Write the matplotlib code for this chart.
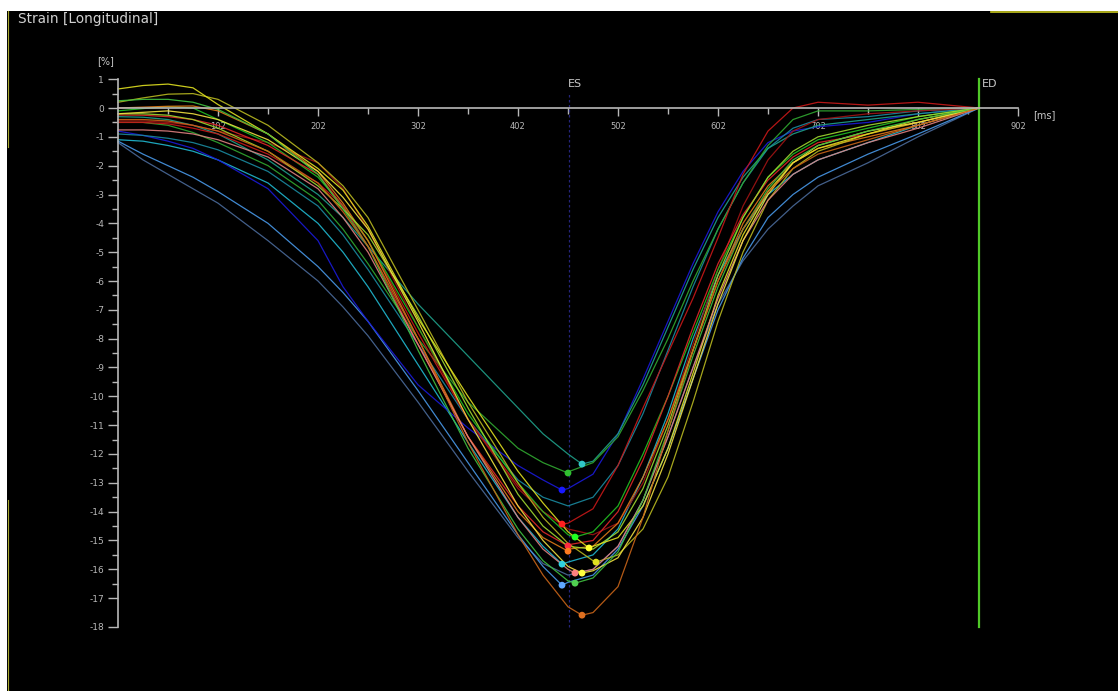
import matplotlib
matplotlib.use("Agg")
import matplotlib.pyplot as plt
from matplotlib.patches import Rectangle
from matplotlib.ticker import FixedLocator

# time grid (ms) shared by every segment curve
t = [0, 25, 50, 75, 100, 150, 200, 225, 250, 300, 350, 400, 425, 450, 475, 500,
     525, 550, 575, 600, 625, 650, 675, 700, 750, 800, 861]

# strain curves [%] per segment
slate_r  = [-1.2, -1.8, -2.3, -2.8, -3.3, -4.6, -6.0, -6.9, -7.9, -10.2, -12.6, -14.9, -15.8, -16.2, -16.0, -15.2, -13.6, -11.4, -9.0, -6.8, -5.3, -4.2, -3.4, -2.7, -1.9, -1.0, 0]
lblue_m  = [-1.15, -1.6, -2.0, -2.4, -2.9, -4.0, -5.5, -6.4, -7.4, -9.8, -12.3, -14.8, -15.9, -16.45, -16.2, -15.3, -13.8, -11.8, -9.4, -7.0, -5.2, -3.8, -3.0, -2.4, -1.6, -0.9, 0]
cyan_j   = [-1.1, -1.15, -1.3, -1.5, -1.8, -2.6, -4.0, -5.0, -6.2, -8.9, -11.6, -14.2, -15.2, -15.75, -15.5, -14.6, -12.8, -10.6, -8.0, -5.8, -4.2, -3.0, -2.3, -1.8, -1.2, -0.6, 0]
blue_c   = [-0.8, -0.95, -1.15, -1.4, -1.8, -2.8, -4.6, -6.2, -7.4, -9.6, -11.1, -12.4, -12.9, -13.2, -12.7, -11.3, -9.4, -7.4, -5.4, -3.6, -2.2, -1.2, -0.8, -0.65, -0.5, -0.2, 0]
sea_s    = [-0.9, -0.95, -1.05, -1.2, -1.45, -2.2, -3.4, -4.4, -5.6, -8.2, -10.8, -12.9, -13.5, -13.8, -13.5, -12.4, -10.6, -8.4, -6.2, -4.2, -2.6, -1.4, -0.7, -0.4, -0.3, -0.1, 0]
teal_a   = [-0.3, -0.32, -0.4, -0.6, -0.9, -1.8, -3.0, -3.8, -4.8, -6.8, -8.6, -10.4, -11.3, -12.0, -12.25, -11.3, -9.6, -7.6, -5.6, -3.8, -2.4, -1.4, -0.9, -0.6, -0.4, -0.2, 0]
green_b  = [-0.5, -0.5, -0.6, -0.85, -1.2, -2.0, -3.2, -4.2, -5.4, -8.0, -10.2, -11.8, -12.3, -12.62, -12.3, -11.4, -9.8, -8.0, -6.0, -4.2, -2.6, -1.3, -0.4, -0.1, -0.1, -0.05, 0]
red_d    = [-0.5, -0.5, -0.55, -0.7, -0.9, -1.6, -2.6, -3.4, -4.6, -7.8, -10.8, -13.1, -14.0, -14.4, -13.9, -12.4, -10.4, -8.5, -6.6, -4.5, -2.3, -0.8, 0.0, 0.2, 0.1, 0.2, 0]
dred_p   = [-0.45, -0.45, -0.5, -0.6, -0.8, -1.2, -1.9, -2.8, -4.2, -7.6, -10.8, -13.2, -14.0, -14.6, -14.8, -14.4, -13.0, -10.8, -8.2, -5.6, -3.4, -1.8, -0.8, -0.4, -0.2, -0.1, 0]
green_e  = [-0.1, -0.02, 0.05, 0.0, -0.4, -1.2, -2.4, -3.4, -4.6, -7.6, -10.6, -13.0, -14.0, -14.8, -14.7, -13.8, -12.0, -10.0, -7.8, -5.6, -3.8, -2.4, -1.6, -1.1, -0.7, -0.3, 0]
red_f    = [-0.24, -0.25, -0.3, -0.4, -0.6, -1.3, -2.3, -3.4, -4.8, -8.2, -11.4, -13.8, -14.7, -15.15, -15.0, -14.0, -12.2, -10.0, -7.6, -5.4, -3.7, -2.5, -1.7, -1.2, -0.9, -0.5, 0]
orange_g = [0.0, 0.03, 0.06, 0.07, -0.1, -0.9, -2.2, -3.3, -4.6, -8.0, -11.4, -14.0, -14.9, -15.3, -15.2, -14.4, -12.8, -10.8, -8.4, -6.0, -4.0, -2.7, -1.9, -1.4, -1.0, -0.6, 0]
lime_q   = [-0.2, -0.2, -0.25, -0.4, -0.7, -1.5, -2.7, -3.5, -4.4, -7.2, -10.4, -13.4, -14.5, -15.2, -15.3, -14.7, -13.2, -11.0, -8.4, -5.8, -3.8, -2.4, -1.5, -1.0, -0.6, -0.3, 0]
olive_i  = [0.2, 0.35, 0.48, 0.5, 0.3, -0.6, -1.9, -2.7, -3.8, -7.0, -10.2, -13.0, -14.2, -15.1, -15.7, -15.5, -14.6, -12.8, -10.2, -7.4, -5.0, -3.2, -2.1, -1.5, -0.9, -0.5, 0]
yellow_h = [0.66, 0.78, 0.83, 0.7, 0.12, -0.9, -2.1, -2.85, -4.1, -7.3, -10.0, -12.6, -13.7, -14.7, -15.2, -14.9, -13.8, -11.8, -9.2, -6.5, -4.4, -2.9, -1.9, -1.4, -0.9, -0.4, 0]
pink_k   = [-0.76, -0.76, -0.8, -0.9, -1.1, -1.7, -2.8, -3.8, -5.0, -8.2, -11.4, -14.2, -15.3, -16.0, -16.0, -15.2, -13.6, -11.4, -9.0, -6.6, -4.6, -3.2, -2.3, -1.8, -1.2, -0.7, 0]
yellow_l = [-0.2, -0.15, -0.1, -0.2, -0.4, -1.1, -2.2, -3.1, -4.2, -7.4, -10.8, -13.8, -15.0, -15.9, -16.05, -15.6, -14.2, -12.0, -9.4, -6.8, -4.6, -3.0, -1.9, -1.3, -0.8, -0.5, 0]
green_n  = [0.25, 0.3, 0.3, 0.2, -0.05, -0.9, -2.3, -3.5, -4.8, -8.4, -11.8, -14.6, -15.7, -16.4, -16.3, -15.4, -13.6, -11.2, -8.6, -6.2, -4.2, -2.8, -1.8, -1.3, -0.8, -0.4, 0]
brown_o  = [-0.4, -0.4, -0.45, -0.6, -0.8, -1.5, -2.6, -3.6, -4.8, -8.0, -11.6, -14.8, -16.2, -17.3, -17.5, -16.6, -14.2, -11.2, -8.4, -6.0, -4.2, -2.9, -2.1, -1.6, -1.1, -0.6, 0]

curves = [slate_r, lblue_m, cyan_j, blue_c, sea_s, teal_a, green_b, red_d, dred_p, green_e,
          red_f, orange_g, lime_q, olive_i, yellow_h, pink_k, yellow_l, green_n, brown_o]
colors = ['#4a6a9a', '#4898e8', '#20b8d0', '#1a1ad8', '#1a8aa0', '#1fa08a', '#30a830', '#c81818', '#a01414', '#22c022',
          '#e02828', '#e07818', '#a0d830', '#b8b820', '#e0e020', '#e08080', '#f0e040', '#40c040', '#c86418']

# peak (minimum) strain per curve: time [ms], value [%]; None = no marker
peak_t = [None, 444, 444, 444, None, 464, 450, 444, None, 457,
          450, 450, None, 478, 471, 457, 464, 457, 464]
peak_v = [None, -16.55, -15.82, -13.25, None, -12.35, -12.66, -14.43, None, -14.88,
          -15.19, -15.37, None, -15.75, -15.26, -16.13, -16.13, -16.48, -17.59]
peak_c = [None, '#60a8ff', '#30d0e0', '#1818ff', None, '#30c8c8', '#30c030', '#ff2020', None, '#20ff20',
          '#ff2a40', '#ff7a20', None, '#e0e020', '#ffff30', '#ff8080', '#ffff40', '#50d050', '#e07020']

xticks = [100, 200, 300, 400, 500, 600, 700, 800, 900]
xtick_labels = ['102', '202', '302', '402', '502', '602', '702', '802', '902']
xminor = [50, 150, 250, 350, 450, 550, 650, 750, 850]
yticks = list(range(1, -19, -1))
yminor = [v + 0.5 for v in range(0, -18, -1)]
es_t = 451
ed_t = 861

fig = plt.figure(figsize=(11.18, 6.91), dpi=100, facecolor='white')
ax = fig.add_axes([0, 0, 1, 1])
ax.set_facecolor('black')
ax.set_xlim(-118, 1000)
ax.set_ylim(-20.22, 3.746)

axis_col = '#b8b8b8'
for side in ['top', 'right']:
    ax.spines[side].set_visible(False)
ax.spines['left'].set_position(('data', 0))
ax.spines['bottom'].set_position(('data', 0))
ax.spines['left'].set_bounds(-18, 1)
ax.spines['bottom'].set_bounds(0, 900)
for side in ['left', 'bottom']:
    ax.spines[side].set_color(axis_col)
    ax.spines[side].set_linewidth(1.2)

ax.set_xticks(xticks)
ax.set_xticklabels(xtick_labels)
ax.set_yticks(yticks)
ax.set_yticklabels([str(v) for v in yticks])
ax.xaxis.set_minor_locator(FixedLocator(xminor))
ax.yaxis.set_minor_locator(FixedLocator(yminor))
ax.tick_params(axis='x', which='major', direction='out', length=6, width=1, colors=axis_col,
               labelsize=6, pad=4)
ax.tick_params(axis='x', which='minor', direction='out', length=4, width=1, color=axis_col)
ax.tick_params(axis='y', which='major', direction='out', length=7, width=1, colors=axis_col,
               labelsize=6.5, pad=3)
ax.tick_params(axis='y', which='minor', direction='out', length=4, width=1, color=axis_col)

# ES / ED markers
ylo, yhi = ax.get_ylim()
ax.axvline(es_t, ymin=(-18 - ylo) / (yhi - ylo), ymax=(0.5 - ylo) / (yhi - ylo),
           color='#24247a', lw=0.9, ls=(0, (2, 2)))
ax.axvline(ed_t, ymin=(-18 - ylo) / (yhi - ylo), ymax=(1 - ylo) / (yhi - ylo),
           color='#50c828', lw=1.6)
ax.text(es_t + 6, 0.65, 'ES', color='#c8c8c8', fontsize=8, ha='center', va='bottom')
ax.text(ed_t + 3, 0.65, 'ED', color='#c8c8c8', fontsize=8, ha='left', va='bottom')

for vals, c, pt, pv in zip(curves, colors, peak_t, peak_v):
    pts = list(zip(t, vals))
    if pt is not None:
        pts = sorted(pts + [(pt, pv)])
    ax.plot([p[0] for p in pts], [p[1] for p in pts], color=c, lw=0.9, alpha=0.9,
            solid_joinstyle='round')

marks = [(pt, pv, pc) for pt, pv, pc in zip(peak_t, peak_v, peak_c) if pt is not None]
ax.scatter([m[0] for m in marks], [m[1] for m in marks], s=24, c=[m[2] for m in marks],
           zorder=5, edgecolors='none')

ax.text(-12, 1.45, '[%]', color='#c8c8c8', fontsize=7, ha='center', va='bottom')
ax.text(915, -0.25, '[ms]', color='#c8c8c8', fontsize=7, ha='left', va='center')

fig.text(18 / 1118, 1 - 19 / 691, 'Strain [Longitudinal]', color='#d0d0d0', fontsize=9.8,
         ha='left', va='center')

# screenshot frame: white strips and thin yellow edges
fig.patches.append(Rectangle((0, 1 - 11 / 691), 1, 11 / 691, transform=fig.transFigure,
                             facecolor='white', edgecolor='none', zorder=10))
fig.patches.append(Rectangle((0, 0), 7 / 1118, 1, transform=fig.transFigure,
                             facecolor='white', edgecolor='none', zorder=10))
fig.add_artist(plt.Line2D([991 / 1118, 1], [1 - 11.5 / 691] * 2, transform=fig.transFigure,
                          color='#c8c820', lw=1.2, zorder=11))
fig.add_artist(plt.Line2D([7.5 / 1118] * 2, [1 - 11 / 691, 1 - 147 / 691], transform=fig.transFigure,
                          color='#a8a830', lw=0.8, zorder=11))
fig.add_artist(plt.Line2D([7.5 / 1118] * 2, [0, 1 - 500 / 691], transform=fig.transFigure,
                          color='#a8a830', lw=0.8, zorder=11))

fig.savefig('out.png', dpi=100, facecolor='white')
